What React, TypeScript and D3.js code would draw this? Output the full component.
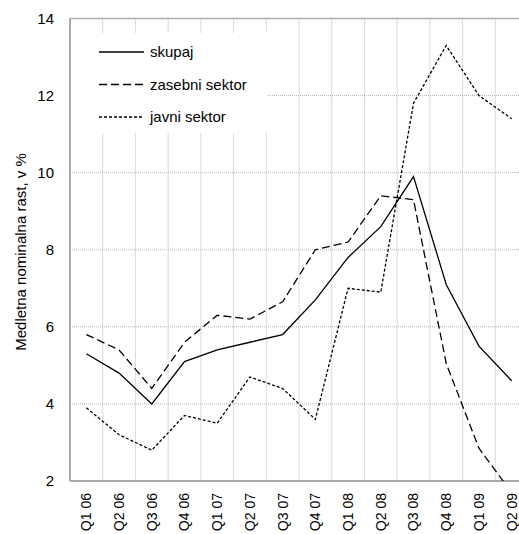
import React from "react";
import * as d3 from "d3";

const categories = ["Q1 06","Q2 06","Q3 06","Q4 06","Q1 07","Q2 07","Q3 07","Q4 07","Q1 08","Q2 08","Q3 08","Q4 08","Q1 09","Q2 09"];
const skupaj = [5.3, 4.8, 4.0, 5.1, 5.4, 5.6, 5.8, 6.7, 7.8, 8.6, 9.9, 7.1, 5.5, 4.6];
const zasebni = [5.8, 5.4, 4.4, 5.6, 6.3, 6.2, 6.65, 8.0, 8.2, 9.4, 9.3, 5.05, 2.85, 1.7];
const javni = [3.9, 3.2, 2.8, 3.7, 3.5, 4.7, 4.4, 3.6, 7.0, 6.9, 11.8, 13.3, 12.0, 11.4];
const yTicks = [2, 4, 6, 8, 10, 12, 14];
const seriesNames = ["skupaj", "zasebni sektor", "javni sektor"];

const W = 519, H = 534;
const L = 70, R = 528, T = 18.5, B = 481;
const FONT = "'Liberation Sans', Arial, sans-serif";

export default function App() {
  const x = d3.scaleBand<string>().domain(categories).range([L, R]);
  const y = d3.scaleLinear().domain([2, 14]).range([B, T]);
  const cx = (c: string) => (x(c) as number) + x.bandwidth() / 2;
  const line = d3.line<number>().x((_, i) => cx(categories[i])).y(d => y(d));
  const series = [
    { name: seriesNames[0], data: skupaj, dash: "none" },
    { name: seriesNames[1], data: zasebni, dash: "8,4" },
    { name: seriesNames[2], data: javni, dash: "3,2" },
  ];
  return (
    <svg width={W} height={H} style={{ position: "absolute", left: 0, top: 0, background: "#fff" }} fontFamily={FONT}>
      <defs>
        <clipPath id="plot"><rect x={L} y={T} width={R - L} height={B - T} /></clipPath>
      </defs>
      {yTicks.filter(t => t > 2 && t < 14).map(t => (
        <line key={"h" + t} x1={L} x2={R} y1={y(t)} y2={y(t)} stroke="#b4b4b4" strokeWidth={1} strokeDasharray="1,1" />
      ))}
      {categories.slice(1).map(c => (
        <line key={"v" + c} x1={x(c)} x2={x(c)} y1={T} y2={B} stroke="#b4b4b4" strokeWidth={1} strokeDasharray="1,1" />
      ))}
      <rect x={72} y={33} width={196} height={100} fill="#fff" />
      <line x1={L} x2={R} y1={T} y2={T} stroke="#b0b0b0" strokeWidth={1.5} />
      <line x1={L} x2={L} y1={T} y2={B} stroke="#a8a8a8" strokeWidth={2} />
      <line x1={L} x2={R} y1={B} y2={B} stroke="#a8a8a8" strokeWidth={2} />
      <g clipPath="url(#plot)">
        {series.map(s => (
          <path key={s.name} d={line(s.data) || ""} fill="none" stroke="#000" strokeWidth={1.3} strokeDasharray={s.dash} />
        ))}
      </g>
      {series.map((s, i) => (
        <g key={"lg" + s.name}>
          <line x1={99} x2={144} y1={52 + i * 32.5} y2={52 + i * 32.5} stroke="#000" strokeWidth={1.3} strokeDasharray={s.dash} />
          <text x={150} y={52 + i * 32.5} dy="0.35em" fontSize={15}>{s.name}</text>
        </g>
      ))}
      {yTicks.map(t => (
        <text key={"yt" + t} x={54} y={y(t)} dy="0.35em" textAnchor="end" fontSize={15}>{t}</text>
      ))}
      {categories.map(c => (
        <text key={"xl" + c} transform={`translate(${cx(c)},493) rotate(-90)`} dy="0.35em" textAnchor="end" fontSize={14}>{c}</text>
      ))}
      <text transform={`translate(21,252) rotate(-90)`} dy="0.35em" textAnchor="middle" fontSize={15}>Medletna nominalna rast, v %</text>
    </svg>
  );
}
